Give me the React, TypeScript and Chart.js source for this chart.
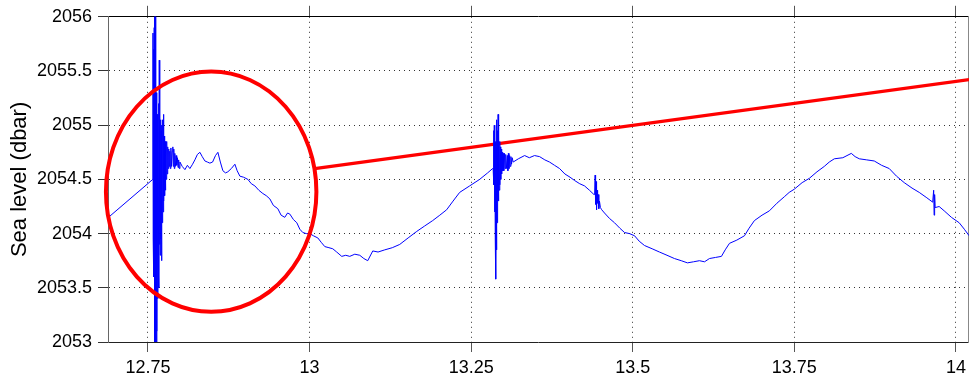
import { useEffect, useRef } from 'react';
import { Chart, registerables } from 'chart.js';

Chart.register(...registerables);

const FONT = 'Liberation Sans, Arial, Helvetica, sans-serif';

// Axis ranges (days)
const X_MIN = 12.6882;
const X_MAX = 14.0201;
const Y_MIN = 2053;
const Y_MAX = 2056;

const xTickValues = [12.75, 13, 13.25, 13.5, 13.75, 14];
const yTickValues = [2053, 2053.5, 2054, 2054.5, 2055, 2055.5, 2056];

// Sea level record, [time (days), level (dbar)]
const preEvent: [number, number][] = [
  [12.685, 2054.13],
  [12.7575, 2054.5],
];

const quakeBurst1: [number, number][] = [
  [12.7578, 2055.85], [12.7581, 2053.95], [12.7584, 2055.7], [12.7587, 2053.9],
  [12.759, 2055.4], [12.7593, 2053.6], [12.7597, 2055.9], [12.76, 2053.2],
  [12.7604, 2056.1], [12.7608, 2052.9], [12.7612, 2056.2], [12.7616, 2052.8],
  [12.762, 2055.8], [12.7624, 2052.9], [12.7628, 2055.3], [12.7632, 2052.95],
  [12.7636, 2055.2], [12.764, 2053.1], [12.7645, 2055.1], [12.765, 2053.4],
  [12.7655, 2055.0], [12.766, 2053.7], [12.7665, 2055.2], [12.767, 2053.5],
  [12.7675, 2055.6], [12.768, 2053.9], [12.7685, 2055.0], [12.769, 2053.8],
  [12.7695, 2055.05], [12.77, 2053.95], [12.7705, 2054.95], [12.771, 2053.75],
  [12.7716, 2055.0], [12.7722, 2054.1], [12.7728, 2055.05], [12.7734, 2054.2],
  [12.774, 2055.1], [12.7746, 2054.3], [12.7752, 2054.9], [12.7758, 2054.35],
  [12.7764, 2054.85], [12.777, 2054.4], [12.7776, 2054.8], [12.7782, 2054.5],
  [12.779, 2054.85], [12.7798, 2054.55], [12.7806, 2054.8], [12.7814, 2054.6],
  [12.7822, 2054.78], [12.783, 2054.62], [12.7838, 2054.76], [12.7846, 2054.6],
  [12.7855, 2054.79], [12.7865, 2054.62], [12.7875, 2054.76], [12.7885, 2054.8],
  [12.7892, 2054.62], [12.79, 2054.78], [12.7908, 2054.6], [12.7916, 2054.74],
  [12.7925, 2054.62], [12.7935, 2054.72], [12.7945, 2054.63], [12.7955, 2054.7],
  [12.7965, 2054.61], [12.7975, 2054.68], [12.7985, 2054.6], [12.7995, 2054.66],
];

const tide1: [number, number][] = [
  [12.803, 2054.62], [12.8072, 2054.59], [12.811, 2054.63], [12.8149, 2054.6],
  [12.819, 2054.64], [12.8226, 2054.68], [12.8265, 2054.73], [12.8304, 2054.75],
  [12.834, 2054.71], [12.8381, 2054.67], [12.842, 2054.66], [12.8458, 2054.65],
  [12.85, 2054.66], [12.8545, 2054.72], [12.8582, 2054.75], [12.862, 2054.66],
  [12.8659, 2054.58], [12.87, 2054.56], [12.8736, 2054.57], [12.879, 2054.6],
  [12.8845, 2054.64], [12.888, 2054.58], [12.8922, 2054.53], [12.898, 2054.52],
  [12.9046, 2054.5], [12.91, 2054.46], [12.9154, 2054.44], [12.9215, 2054.4],
  [12.9277, 2054.37], [12.933, 2054.35], [12.9386, 2054.32], [12.944, 2054.26],
  [12.9509, 2054.23], [12.956, 2054.17], [12.9617, 2054.15], [12.966, 2054.19],
  [12.9695, 2054.18], [12.975, 2054.13], [12.9803, 2054.1], [12.985, 2054.04],
  [12.9896, 2054.01], [12.995, 2054.0], [13.0004, 2054.0], [13.006, 2053.98],
  [13.0128, 2053.96], [13.018, 2053.92], [13.0236, 2053.88], [13.03, 2053.87],
  [13.0359, 2053.86], [13.042, 2053.83], [13.0498, 2053.79], [13.056, 2053.8],
  [13.0622, 2053.79], [13.07, 2053.81], [13.0777, 2053.8], [13.084, 2053.77],
  [13.09, 2053.75], [13.0978, 2053.84], [13.106, 2053.83], [13.1163, 2053.85],
  [13.128, 2053.87], [13.1395, 2053.9], [13.1525, 2053.96], [13.1658, 2054.02],
  [13.178, 2054.07], [13.1905, 2054.12], [13.2015, 2054.17], [13.2121, 2054.22],
  [13.222, 2054.3], [13.2322, 2054.38], [13.2477, 2054.44], [13.2631, 2054.5],
  [13.2755, 2054.56], [13.2832, 2054.6],
];

const quakeBurst2: [number, number][] = [
  [13.284, 2054.6], [13.2848, 2054.95], [13.2853, 2054.45], [13.2858, 2055.0],
  [13.2863, 2054.2], [13.2868, 2054.9], [13.2873, 2053.95], [13.2878, 2054.85],
  [13.2882, 2053.58], [13.2887, 2054.8], [13.2892, 2053.85], [13.2897, 2055.05],
  [13.2902, 2054.1], [13.2907, 2054.95], [13.2912, 2054.3], [13.2917, 2055.1],
  [13.2922, 2054.3], [13.2928, 2054.9], [13.2934, 2054.4], [13.294, 2054.85],
  [13.2946, 2054.45], [13.2952, 2054.8], [13.2958, 2054.5], [13.2965, 2054.78],
  [13.2972, 2054.55], [13.298, 2054.75], [13.2988, 2054.58], [13.2996, 2054.74],
  [13.3005, 2054.58], [13.3015, 2054.74], [13.3025, 2054.6], [13.3035, 2054.73],
  [13.3045, 2054.6], [13.306, 2054.72], [13.3068, 2054.58], [13.3076, 2054.74],
  [13.3085, 2054.6], [13.3095, 2054.72], [13.3105, 2054.62], [13.3115, 2054.71],
  [13.3125, 2054.64], [13.3135, 2054.7], [13.315, 2054.66],
];

const tide2: [number, number][] = [
  [13.323, 2054.69], [13.3327, 2054.72],
  [13.34, 2054.7], [13.348, 2054.72], [13.3559, 2054.71], [13.364, 2054.68],
  [13.3713, 2054.66], [13.379, 2054.63], [13.3868, 2054.6], [13.395, 2054.55],
  [13.403, 2054.52], [13.41, 2054.49], [13.418, 2054.46], [13.4254, 2054.44],
  [13.433, 2054.4], [13.44, 2054.36],
];

const aftershock: [number, number][] = [
  [13.441, 2054.36], [13.4418, 2054.54], [13.4425, 2054.27], [13.4432, 2054.48],
  [13.444, 2054.22], [13.4448, 2054.4], [13.4456, 2054.28], [13.4465, 2054.36],
  [13.4475, 2054.23], [13.4485, 2054.3], [13.45, 2054.24],
];

const tide3: [number, number][] = [
  [13.452, 2054.22], [13.4563, 2054.19], [13.464, 2054.14], [13.4718, 2054.1],
  [13.48, 2054.05], [13.4873, 2054.01], [13.495, 2054.0], [13.5028, 2053.98],
  [13.51, 2053.93], [13.5182, 2053.89], [13.53, 2053.86], [13.5413, 2053.83],
  [13.553, 2053.8], [13.5645, 2053.77], [13.575, 2053.75], [13.5846, 2053.73],
  [13.594, 2053.74], [13.6032, 2053.75], [13.611, 2053.74], [13.6187, 2053.77],
  [13.628, 2053.78], [13.6372, 2053.79], [13.643, 2053.85], [13.6496, 2053.91],
  [13.661, 2053.94], [13.6728, 2053.98], [13.68, 2054.05], [13.6882, 2054.12],
  [13.7, 2054.17], [13.7114, 2054.21], [13.723, 2054.28], [13.7345, 2054.34],
  [13.742, 2054.38], [13.75, 2054.41], [13.762, 2054.47], [13.7732, 2054.51],
  [13.785, 2054.57], [13.7963, 2054.62], [13.804, 2054.66], [13.8118, 2054.69],
  [13.825, 2054.7], [13.8381, 2054.74], [13.844, 2054.71], [13.8505, 2054.69],
  [13.862, 2054.68], [13.8736, 2054.67], [13.885, 2054.63], [13.8968, 2054.6],
  [13.908, 2054.53], [13.92, 2054.47], [13.932, 2054.42], [13.9432, 2054.38],
  [13.955, 2054.33], [13.964, 2054.29],
];

const spike: [number, number][] = [
  [13.9655, 2054.4], [13.9662, 2054.17], [13.967, 2054.36], [13.9678, 2054.24],
];

const tide4: [number, number][] = [
  [13.974, 2054.25], [13.9818, 2054.21], [13.993, 2054.15], [14.005, 2054.1],
  [14.013, 2054.04], [14.0204, 2053.98], [14.025, 2053.94],
];

// Annotation: ellipse around the first event (center and radii in data units)
const ellipseCenter = { x: 12.8478, y: 2054.387 };
const ellipseRadius = { x: 0.1628, y: 1.108 };
// Annotation: red line from the ellipse edge to the right edge
const redLine: [number, number][] = [
  [13.0079, 2054.6],
  [14.0204, 2055.42],
];

const seaLevel = [
  ...preEvent, ...quakeBurst1, ...tide1, ...quakeBurst2, ...tide2,
  ...aftershock, ...tide3, ...spike, ...tide4,
];

const ellipsePlugin = {
  id: 'ellipseMark',
  afterDatasetsDraw(chart: any) {
    const xs = chart.scales.x;
    const ys = chart.scales.y;
    const cx = xs.getPixelForValue(ellipseCenter.x);
    const cy = ys.getPixelForValue(ellipseCenter.y);
    const rx = xs.getPixelForValue(ellipseCenter.x + ellipseRadius.x) - cx;
    const ry = ys.getPixelForValue(ellipseCenter.y - ellipseRadius.y) - cy;
    const ctx = chart.ctx;
    ctx.save();
    ctx.beginPath();
    ctx.ellipse(cx, cy, Math.abs(rx), Math.abs(ry), 0, 0, Math.PI * 2);
    ctx.strokeStyle = '#ff0000';
    ctx.lineWidth = 4;
    ctx.stroke();
    ctx.restore();
  },
};

export default function App() {
  const ref = useRef<HTMLCanvasElement | null>(null);

  useEffect(() => {
    document.body.style.margin = '0';
    document.body.style.overflow = 'hidden';
    const canvas = ref.current;
    if (!canvas) return;
    const tickFont = { family: FONT, size: 18 };
    const chart = new Chart(canvas, {
      type: 'line',
      data: {
        datasets: [
          {
            data: seaLevel.map(([x, y]) => ({ x, y })),
            borderColor: '#0000ff',
            borderWidth: 1,
            pointRadius: 0,
            tension: 0,
            xAxisID: 'x',
            yAxisID: 'y',
          },
          {
            data: redLine.map(([x, y]) => ({ x, y })),
            borderColor: '#ff0000',
            borderWidth: 3.2,
            pointRadius: 0,
            xAxisID: 'x',
            yAxisID: 'y',
          },
        ],
      },
      options: {
        animation: false,
        responsive: false,
        events: [],
        layout: { padding: 0 },
        plugins: { legend: { display: false }, tooltip: { enabled: false } },
        scales: {
          x: {
            type: 'linear',
            position: 'bottom',
            min: X_MIN,
            max: X_MAX,
            afterBuildTicks: (s: any) => {
              s.ticks = xTickValues.map((v) => ({ value: v }));
            },
            afterFit: (s: any) => {
              s.height = 40;
            },
            ticks: {
              callback: (v: any) => String(v),
              font: tickFont,
              color: '#000',
              padding: 5,
              maxRotation: 0,
              autoSkip: false,
            },
            grid: { color: '#333', lineWidth: 1, tickLength: 10, tickColor: '#555', tickWidth: 1 },
            border: { color: '#222', width: 1, dash: [1, 4] },
          },
          x2: {
            type: 'linear',
            position: 'top',
            min: X_MIN,
            max: X_MAX,
            afterBuildTicks: (s: any) => {
              s.ticks = xTickValues.map((v) => ({ value: v }));
            },
            afterFit: (s: any) => {
              s.height = 15;
            },
            ticks: { display: false },
            grid: { drawOnChartArea: false, tickLength: 11, tickColor: '#555', tickWidth: 1 },
            border: { color: '#000', width: 1 },
          },
          y: {
            type: 'linear',
            position: 'left',
            min: Y_MIN,
            max: Y_MAX,
            afterBuildTicks: (s: any) => {
              s.ticks = yTickValues.map((v) => ({ value: v }));
            },
            afterFit: (s: any) => {
              s.width = 108;
            },
            ticks: { callback: (v: any) => String(v), font: tickFont, color: '#000', padding: 6 },
            grid: { color: '#333', lineWidth: 1, tickLength: 10, tickColor: '#333', tickWidth: 1 },
            border: { color: '#666', width: 1, dash: [1, 4] },
            title: {
              display: true,
              text: 'Sea level (dbar)',
              font: { family: FONT, size: 22 },
              color: '#000',
              padding: { top: 7, bottom: 0 },
            },
          },
          y2: {
            type: 'linear',
            position: 'right',
            min: Y_MIN,
            max: Y_MAX,
            afterFit: (s: any) => {
              s.width = 1;
            },
            ticks: { display: false },
            grid: { drawOnChartArea: false, drawTicks: false },
            border: { color: '#888', width: 1 },
          },
        },
      },
      plugins: [ellipsePlugin],
    });
    return () => chart.destroy();
  }, []);

  return <canvas ref={ref} width={971} height={382} style={{ display: 'block' }} />;
}
